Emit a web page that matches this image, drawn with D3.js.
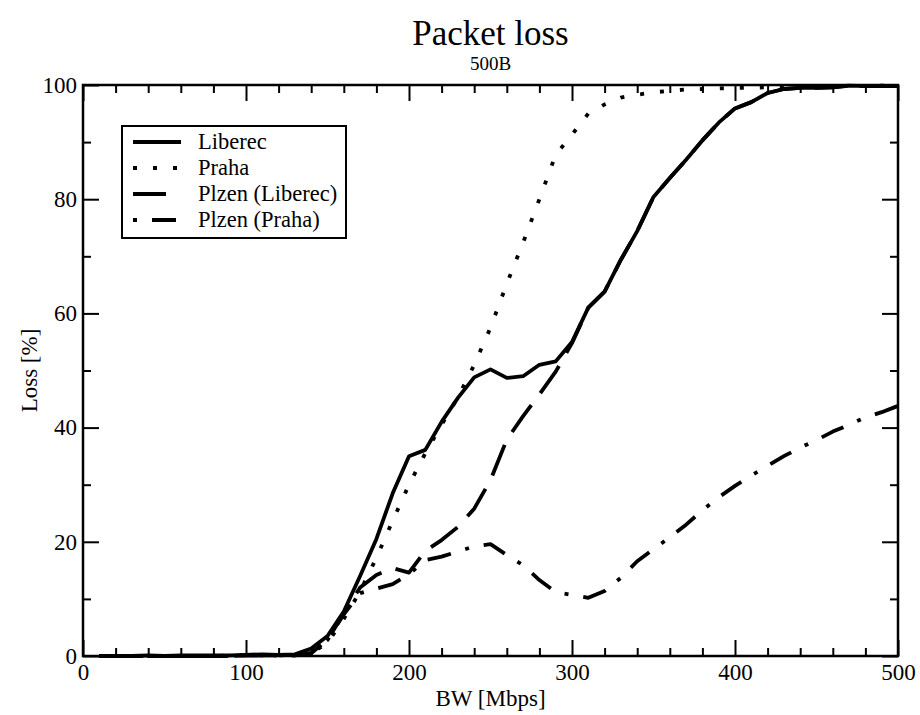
<!DOCTYPE html>
<html>
<head>
<meta charset="utf-8">
<script src="https://cdn.jsdelivr.net/npm/d3@7"></script>
<style>
  body { margin: 0; background: #fff; }
  text { font-family: "Liberation Serif", "Times New Roman", serif; fill: #000; }
</style>
</head>
<body>
<svg width="920" height="715"></svg>
<script>
// bandwidth steps [Mbps]
const bw = [10, 20, 30, 40, 50, 60, 70, 80, 90, 100,
            110, 120, 130, 140, 150, 160, 170, 180, 190, 200,
            210, 220, 230, 240, 250, 260, 270, 280, 290, 300,
            310, 320, 330, 340, 350, 360, 370, 380, 390, 400,
            410, 420, 430, 440, 450, 460, 470, 480, 490, 500];

// loss [%]
const liberec = [0, 0, 0, 0.1, 0, 0.1, 0.1, 0.1, 0.1, 0.2,
                 0.3, 0.2, 0.3, 1.3, 3.5, 7.8, 14, 20.5, 28.5, 35,
                 36.1, 41, 45.2, 48.8, 50.2, 48.7, 49, 51, 51.6, 55,
                 61, 63.8, 69.4, 74.4, 80.4, 83.7, 86.9, 90.3, 93.4, 95.9,
                 97, 98.6, 99.3, 99.5, 99.5, 99.6, 99.9, 99.8, 99.8, 99.8];

const praha = [0, 0, 0, 0, 0, 0, 0, 0, 0.1, 0.1,
               0.1, 0.1, 0.1, 0.5, 2.3, 6.5, 11.3, 17.2, 23.7, 30,
               35.5, 40.5, 45.3, 51, 57.5, 65.2, 72.4, 80, 87.8, 91.3,
               95, 96.6, 97.8, 98.3, 98.7, 99, 99.2, 99.3, 99.4, 99.5,
               99.5, 99.6, 99.6, 99.7, 99.7, 99.8, 99.8, 99.8, 99.9, 99.9];

const plzenLiberec = [0, 0, 0, 0, 0, 0, 0, 0, 0, 0.1,
                      0.1, 0.1, 0.1, 0.5, 2.8, 7.5, 12, 14.2, 15.4, 14.6,
                      18.4, 20.3, 22.6, 25.8, 30.8, 37.9, 42, 45.8, 49.8, 54.8,
                      61, 63.8, 69.4, 74.4, 80.4, 83.7, 86.9, 90.3, 93.4, 95.9,
                      97, 98.6, 99.3, 99.5, 99.5, 99.6, 99.9, 99.8, 99.8, 99.8];

const plzenPraha = [0, 0, 0, 0, 0, 0, 0, 0, 0, 0.1,
                    0.1, 0.1, 0.1, 0.5, 2.8, 7.3, 11, 11.8, 12.6, 14.3,
                    16.8, 17.4, 18.3, 19.2, 19.6, 17.7, 15.9, 13.3, 11.2, 10.7,
                    10.2, 11.4, 13.7, 16.6, 18.7, 20.8, 23, 25.5, 27.8, 29.8,
                    31.6, 33.3, 35, 36.5, 37.8, 39.3, 40.5, 41.8, 42.7, 43.8];

const seriesNames = ["Liberec", "Praha", "Plzen (Liberec)", "Plzen (Praha)"];

const xTicks = [0, 100, 200, 300, 400, 500];
const xMinor = [20, 40, 60, 80, 120, 140, 160, 180, 220, 240, 260, 280,
                320, 340, 360, 380, 420, 440, 460, 480];
const yTicks = [0, 20, 40, 60, 80, 100];
const yMinor = [10, 30, 50, 70, 90];

const series = [liberec, praha, plzenLiberec, plzenPraha];
const dashes = [null, "4,16", "33,15", "4,15,24,15"];

const svg = d3.select("svg");
const m = { left: 83, right: 898, top: 85, bottom: 656 };

const x = d3.scaleLinear().domain([0, 500]).range([m.left, m.right]);
const y = d3.scaleLinear().domain([0, 100]).range([m.bottom, m.top]);

// titles
svg.append("text")
   .attr("x", (m.left + m.right) / 2).attr("y", 45)
   .attr("text-anchor", "middle").style("font-size", "35px")
   .text("Packet loss");
svg.append("text")
   .attr("x", (m.left + m.right) / 2).attr("y", 70)
   .attr("text-anchor", "middle").style("font-size", "19px")
   .text("500B");

// axes with inward ticks
function styleAxis(g, fs) {
  g.select(".domain").remove();
  g.attr("font-family", null).attr("font-size", null);
  g.selectAll("line").attr("stroke", "#000").attr("stroke-width", 2);
  g.selectAll("text").style("font-size", fs);
}

svg.append("g").attr("transform", `translate(0,${m.bottom})`)
   .call(d3.axisBottom(x).tickValues(xTicks).tickSize(-16).tickPadding(8).tickFormat(d3.format("d")))
   .call(g => styleAxis(g, "23px"));
svg.append("g").attr("transform", `translate(0,${m.bottom})`)
   .call(d3.axisBottom(x).tickValues(xMinor).tickSize(-8).tickFormat(""))
   .call(g => styleAxis(g, "23px"));
svg.append("g").attr("transform", `translate(0,${m.top})`)
   .call(d3.axisTop(x).tickValues(xTicks).tickSize(-16).tickFormat(""))
   .call(g => styleAxis(g, "23px"));
svg.append("g").attr("transform", `translate(0,${m.top})`)
   .call(d3.axisTop(x).tickValues(xMinor).tickSize(-8).tickFormat(""))
   .call(g => styleAxis(g, "23px"));

svg.append("g").attr("transform", `translate(${m.left},0)`)
   .call(d3.axisLeft(y).tickValues(yTicks).tickSize(-16).tickPadding(6).tickFormat(d3.format("d")))
   .call(g => styleAxis(g, "23px"));
svg.append("g").attr("transform", `translate(${m.left},0)`)
   .call(d3.axisLeft(y).tickValues(yMinor).tickSize(-8).tickFormat(""))
   .call(g => styleAxis(g, "23px"));
svg.append("g").attr("transform", `translate(${m.right},0)`)
   .call(d3.axisRight(y).tickValues(yTicks).tickSize(-16).tickFormat(""))
   .call(g => styleAxis(g, "23px"));
svg.append("g").attr("transform", `translate(${m.right},0)`)
   .call(d3.axisRight(y).tickValues(yMinor).tickSize(-8).tickFormat(""))
   .call(g => styleAxis(g, "23px"));

// frame
svg.append("rect")
   .attr("x", m.left).attr("y", m.top)
   .attr("width", m.right - m.left).attr("height", m.bottom - m.top)
   .attr("fill", "none").attr("stroke", "#000").attr("stroke-width", 2.5);

// axis labels
svg.append("text")
   .attr("x", (m.left + m.right) / 2).attr("y", 706)
   .attr("text-anchor", "middle").style("font-size", "23px")
   .text("BW [Mbps]");
svg.append("text")
   .attr("transform", `translate(37,${(m.top + m.bottom) / 2}) rotate(-90)`)
   .attr("text-anchor", "middle").style("font-size", "23px")
   .text("Loss [%]");

// lines
const line = d3.line()
   .x((d, i) => x(bw[i]))
   .y(d => y(d));

svg.selectAll(".series")
   .data(series)
   .enter()
   .append("path")
   .attr("class", "series")
   .attr("d", d => line(d))
   .attr("fill", "none")
   .attr("stroke", "#000")
   .attr("stroke-width", 3.8)
   .attr("stroke-linejoin", "round")
   .attr("stroke-dasharray", (d, i) => dashes[i]);

// legend
const legend = svg.append("g").attr("transform", "translate(122,126)");
legend.append("rect")
   .attr("width", 224).attr("height", 112)
   .attr("fill", "#fff").attr("stroke", "#000").attr("stroke-width", 2);

seriesNames.forEach((name, i) => {
  const cy = 16 + i * 26;
  legend.append("line")
     .attr("x1", 11).attr("x2", 59).attr("y1", cy).attr("y2", cy)
     .attr("stroke", "#000").attr("stroke-width", 3.8)
     .attr("stroke-dasharray", dashes[i]);
  legend.append("text")
     .attr("x", 76).attr("y", cy + 7)
     .style("font-size", "22.5px")
     .text(name);
});
</script>
</body>
</html>
